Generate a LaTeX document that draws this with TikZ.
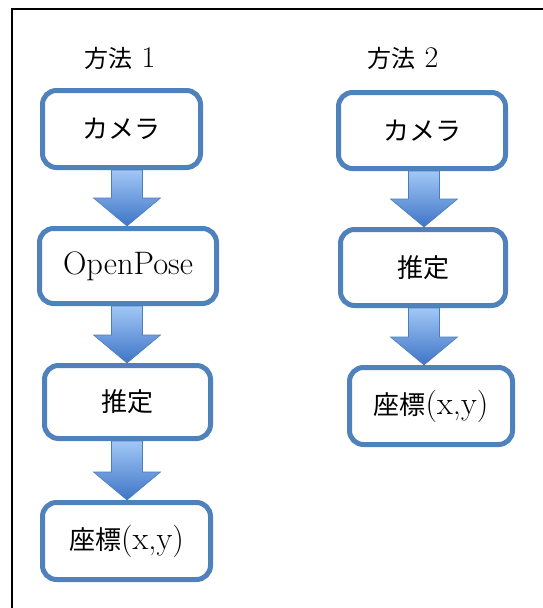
\documentclass[tikz,border=0pt]{standalone}
\usepackage{fontspec}
\newfontfamily\cjk[Scale=0.8]{Noto Sans CJK JP}
\usetikzlibrary{calc}
\definecolor{boxblue}{RGB}{79,129,189}
\definecolor{arrtop}{RGB}{162,199,246}
\definecolor{arrbot}{RGB}{62,117,198}
\definecolor{arredge}{RGB}{74,126,187}
\tikzset{
  stepbox/.style={draw=boxblue, line width=5pt, rounded corners=14pt, fill=white,
    align=center, inner sep=0pt, font=\fontsize{32.5}{36}\selectfont},
  heading/.style={font=\fontsize{30}{34}\selectfont, inner sep=0pt},
  fatarrow/.style={top color=arrtop, bottom color=arrbot, draw=arredge,
    line width=0.6pt, line join=miter},
}
% #1 upper node, #2 lower node, #3 x of arrow axis (pt)
\newcommand\fatarr[3]{%
  \path[fatarrow] let \p1=(#1.south), \p2=(#2.north) in
    (#3pt-15.5pt,\y1) -- (#3pt+15.5pt,\y1) -- (#3pt+15.5pt,\y2+28pt)
    -- (#3pt+33.5pt,\y2+28pt) -- (#3pt,\y2) -- (#3pt-33.5pt,\y2+28pt)
    -- (#3pt-15.5pt,\y2+28pt) -- cycle;}
\begin{document}
\begin{tikzpicture}[x=1pt,y=-1pt]
\useasboundingbox (0,0) rectangle (543,608);
\draw[line width=2pt] (12,612) -- (12,9) -- (547,9);

\node[heading] (h1) at (120,58) {{\cjk 方法} 1};
\node[heading] (h2) at (403,58) {{\cjk 方法} 2};

\node[stepbox, minimum width=158pt, minimum height=77pt] (l1) at (121.5,129) {\cjk カメラ};
\node[stepbox, minimum width=177pt, minimum height=75pt] (l2) at (128,266) {OpenPose};
\node[stepbox, minimum width=166pt, minimum height=73pt] (l3) at (127.5,402) {\cjk 推定};
\node[stepbox, minimum width=168pt, minimum height=77pt] (l4) at (126.5,541) {{\cjk 座標}(x,y)};

\node[stepbox, minimum width=167pt, minimum height=76pt] (r1) at (422,130.5) {\cjk カメラ};
\node[stepbox, minimum width=165pt, minimum height=76pt] (r2) at (423,267.5) {\cjk 推定};
\node[stepbox, minimum width=163pt, minimum height=77pt] (r3) at (431,406) {{\cjk 座標}(x,y)};

\fatarr{l1}{l2}{127}
\fatarr{l2}{l3}{127}
\fatarr{l3}{l4}{127}
\fatarr{r1}{r2}{424}
\fatarr{r2}{r3}{424}
\end{tikzpicture}
\end{document}
